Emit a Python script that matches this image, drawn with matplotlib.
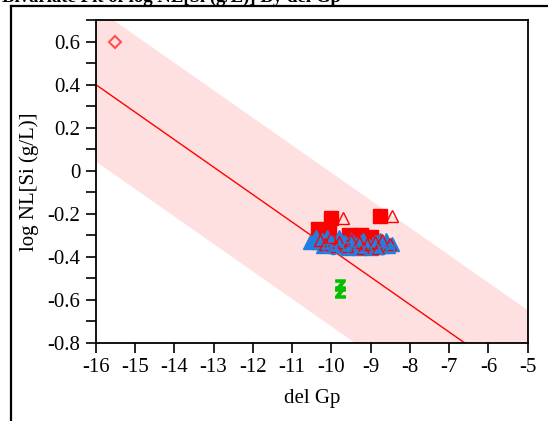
import numpy as np
import matplotlib
matplotlib.use('Agg')
import matplotlib.pyplot as plt
from matplotlib.lines import Line2D
from matplotlib.ticker import MultipleLocator, FuncFormatter

plt.rcParams['font.family'] = ['Liberation Serif', 'DejaVu Serif']
plt.rcParams['axes.unicode_minus'] = False

# fitted line and prediction band
fit_intercept = -1.643
fit_slope = -0.1277
band_half = 0.357

# points
diamond_x = [-15.5]
diamond_y = [0.60]

green_x = [-9.79, -9.79]
green_y = [-0.53, -0.565]

red_sq_x = [-10.0, -8.75, -10.35, -10.05, -9.55, -9.25, -9.0]
red_sq_y = [-0.22, -0.21, -0.27, -0.28, -0.30, -0.30, -0.31]

blue_tri_x = [-10.55, -10.45, -10.35, -10.25, -10.15, -10.05, -9.95, -9.85, -9.75,
              -9.65, -9.55, -9.45, -9.35, -9.25, -9.15, -9.05, -8.95, -8.85,
              -8.75, -8.65, -8.55, -8.45, -10.4, -10.1, -9.8, -9.5, -9.2, -8.9,
              -8.6, -10.2, -9.9, -9.6, -9.3, -9.0, -8.7]
blue_tri_y = [-0.33, -0.32, -0.33, -0.32, -0.33, -0.32, -0.33, -0.34, -0.32,
              -0.33, -0.34, -0.33, -0.34, -0.33, -0.34, -0.35, -0.34, -0.33,
              -0.32, -0.34, -0.35, -0.34, -0.31, -0.31, -0.31, -0.32, -0.32, -0.33,
              -0.32, -0.35, -0.35, -0.36, -0.36, -0.36, -0.35]

red_tri_x = [-9.7, -8.45, -10.3, -10.0, -9.8, -9.5, -9.3, -9.1, -8.9, -8.7,
             -8.5, -9.9, -9.6, -10.15, -9.2, -8.8]
red_tri_y = [-0.22, -0.21, -0.32, -0.31, -0.33, -0.32, -0.33, -0.34, -0.33, -0.32,
             -0.34, -0.35, -0.35, -0.34, -0.36, -0.36]

blue_circ_x = [-10.1, -9.8, -9.5, -9.3, -9.1, -8.9, -8.7, -8.5, -9.95, -9.6]
blue_circ_y = [-0.36, -0.36, -0.37, -0.36, -0.37, -0.36, -0.37, -0.36, -0.37, -0.35]

xlim = (-16, -5)
ylim = (-0.8, 0.7)

fig = plt.figure(figsize=(5.48, 4.21), dpi=100)
ax = fig.add_axes([95.7 / 548, 1 - 343 / 421, (527.7 - 95.7) / 548, (343 - 20) / 421])

xs = np.linspace(xlim[0], xlim[1], 200)
yfit = fit_intercept + fit_slope * xs
ax.fill_between(xs, yfit - band_half, yfit + band_half, color='#ffe0e0', lw=0, zorder=1)
ax.plot(xs, yfit, color='#ff0000', lw=1.0, zorder=2)

ax.plot(diamond_x, diamond_y, 'D', ms=6, mfc='none', mec='#ff5050', mew=1.5, zorder=3)
ax.plot(red_sq_x, red_sq_y, 's', ms=9.5, color='#ff0000', mec='#ff0000', zorder=3)
ax.plot(blue_tri_x, blue_tri_y, '^', ms=9.5, color='#2080e0', mec='#2080e0', zorder=4)
ax.plot(red_tri_x, red_tri_y, '^', ms=9, mfc='none', mec='#ff0000', mew=1.0, zorder=5)
ax.plot(blue_circ_x, blue_circ_y, 'o', ms=6, mfc='none', mec='#2080e0', mew=1.0, zorder=5)
ax.plot(green_x, green_y, ls='none', marker='$\\mathbf{Z}$', ms=8, color='#00c000', zorder=5)

ax.set_xlim(xlim)
ax.set_ylim(ylim)
ax.xaxis.set_major_locator(MultipleLocator(1))
ax.yaxis.set_major_locator(MultipleLocator(0.2))
ax.yaxis.set_minor_locator(MultipleLocator(0.1))
ax.yaxis.set_major_formatter(FuncFormatter(lambda v, p: '%g' % round(v, 1)))
ax.xaxis.set_major_formatter(FuncFormatter(lambda v, p: '%g' % v))
ax.tick_params(which='both', direction='out', length=7.5, width=1.2, labelsize=15)
ax.tick_params(axis='x', pad=3)
for s in ax.spines.values():
    s.set_linewidth(1.3)

ax.set_xlabel('del Gp', fontsize=15, labelpad=9)
ax.set_ylabel('log NL[Si (g/L)]', fontsize=15, labelpad=6)

# outer report frame and clipped title
fig.add_artist(Line2D([11 / 548, 11 / 548], [0, 1 - 6 / 421], color='black', lw=1.6))
fig.add_artist(Line2D([11 / 548, 1], [1 - 6 / 421, 1 - 6 / 421], color='black', lw=1.6))
fig.text(2 / 548, 1 - 2 / 421, 'Bivariate Fit of log NL[Si (g/L)] By del Gp',
         fontsize=13.5, fontweight='bold', va='baseline', ha='left')

plt.savefig('out.png', dpi=100)
plt.close()
